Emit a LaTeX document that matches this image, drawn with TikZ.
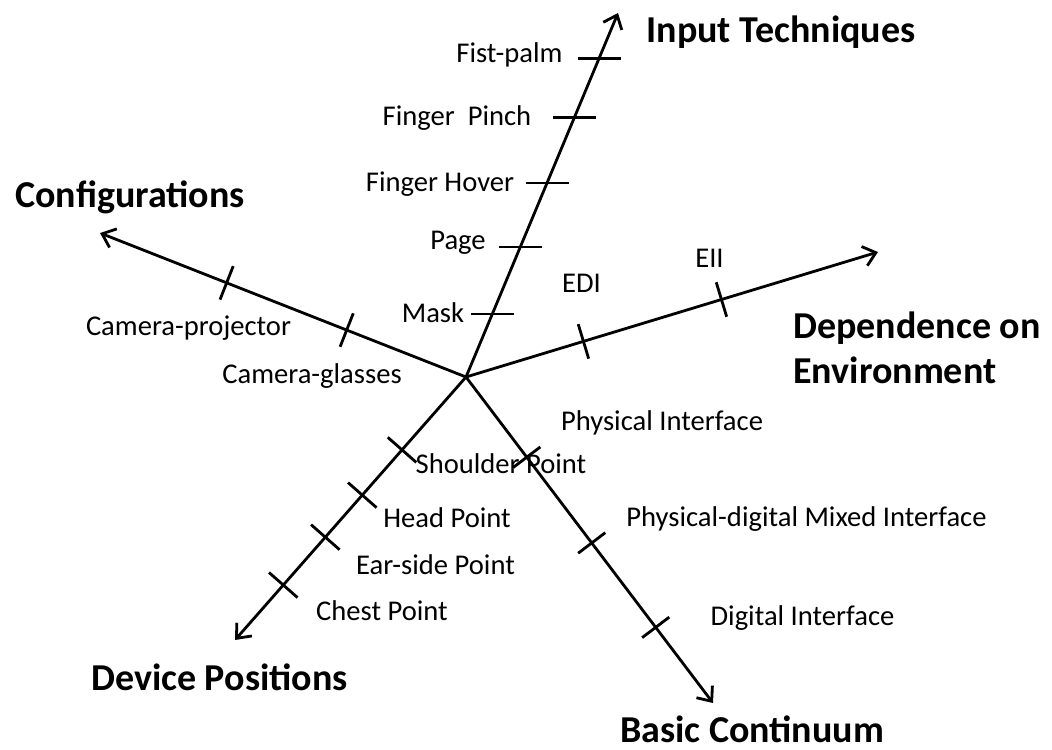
\documentclass[tikz,border=0pt]{standalone}
\usepackage{fontspec}
\setmainfont{Carlito}
\usetikzlibrary{arrows.meta,calc}

\begin{document}
\begin{tikzpicture}[x=0.5pt,y=-0.5pt,
    axisline/.style={line width=1.4pt,-{Straight Barb[length=6pt,width=10pt,line width=1.4pt]}},
    tickmark/.style={line width=1.4pt},
    lbl/.style={inner sep=0pt,anchor=base,font=\fontsize{14.3}{16}\selectfont},
    title/.style={inner sep=0pt,anchor=base,font=\fontsize{19}{22.5}\selectfont\bfseries}]
            \useasboundingbox (0,0) rectangle (1052,749);
            \coordinate (Origin) at (466,377);
            \coordinate (Input) at (618,13);
            \coordinate (Config) at (100,233);
            \coordinate (Depend) at (878,252);
            \coordinate (Basic) at (713,703);
            \coordinate (Device) at (235,640);
            \draw[axisline] (Origin) -- (Input);
            \draw[axisline] (Origin) -- (Config);
            \draw[axisline] (Origin) -- (Depend);
            \draw[axisline] (Origin) -- (Basic);
            \draw[axisline] (Origin) -- (Device);
            % tick marks
            \foreach \t in {0.173,0.357,0.533,0.714,0.876}
                \draw[tickmark] ($(Origin)!\t!(Input)+(-21.5,0)$) -- +(43,0);
            \foreach \t in {0.326,0.654}
                \draw[tickmark] ($(Origin)!\t!(Config)!9pt!90:(Config)$) -- ($(Origin)!\t!(Config)!9pt!-90:(Config)$);
            \foreach \t in {0.285,0.62}
                \draw[tickmark] ($(Origin)!\t!(Depend)!9pt!90:(Depend)$) -- ($(Origin)!\t!(Depend)!9pt!-90:(Depend)$);
            \foreach \t in {0.246,0.509,0.768}
                \draw[tickmark] ($(Origin)!\t!(Basic)!8.5pt!90:(Basic)$) -- ($(Origin)!\t!(Basic)!8.5pt!-90:(Basic)$);
            \foreach \t in {0.277,0.449,0.609,0.791}
                \draw[tickmark] ($(Origin)!\t!(Device)!9.5pt!90:(Device)$) -- ($(Origin)!\t!(Device)!9.5pt!-90:(Device)$);
            % axis titles
            \node[title] (inputtitle) at (781,43) {Input Techniques};
            \node[title] (configtitle) at (130,207) {Configurations};
            \node[title,align=left,anchor=north west] (dependtitle) at (793,311) {Dependence on\\Environment};
            \node[title] (basictitle) at (752,742) {Basic Continuum};
            \node[title] (devicetitle) at (219.5,690) {Device Positions};
            % labels
            \node[lbl] (fist) at (509.5,63) {Fist-palm};
            \node[lbl] (pinch) at (457,125) {Finger~~Pinch};
            \node[lbl] (hover) at (440,191) {Finger Hover};
            \node[lbl] (page) at (458,249) {Page};
            \node[lbl] (mask) at (433,322) {Mask};
            \node[lbl] (campro) at (188.5,335) {Camera-projector};
            \node[lbl] (camgla) at (312,383) {Camera-glasses};
            \node[lbl] (edi) at (581.5,292) {EDI};
            \node[lbl] (eii) at (709.5,267) {EII};
            \node[lbl] (physical) at (662,430) {Physical Interface};
            \node[lbl] (mixed) at (806.5,526) {Physical-digital Mixed Interface};
            \node[lbl] (digital) at (802.5,625) {Digital Interface};
            \node[lbl] (shoulder) at (501,473) {Shoulder Point};
            \node[lbl] (head) at (447,527) {Head Point};
            \node[lbl] (ear) at (435.5,574) {Ear-side Point};
            \node[lbl] (chest) at (382,620) {Chest Point};
        \end{tikzpicture}
\end{document}
